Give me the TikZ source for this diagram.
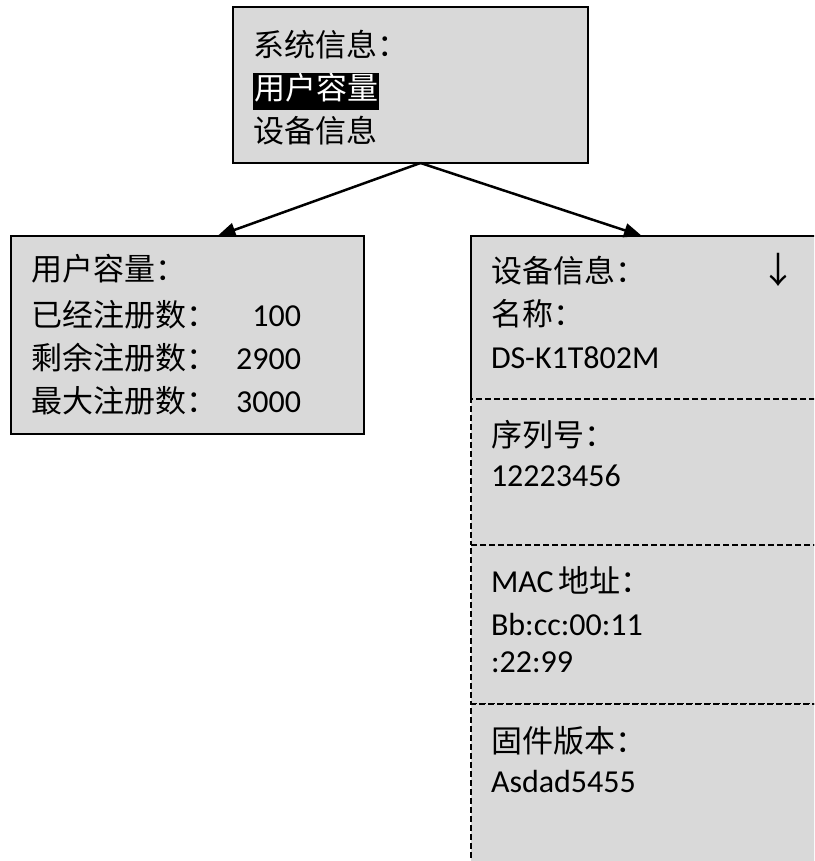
\documentclass[tikz,border=0pt]{standalone}
\usepackage{fontspec}
\setmainfont{Carlito}
\newfontfamily\cjk{Noto Sans CJK SC}
\usetikzlibrary{arrows.meta,positioning}
\definecolor{panelgray}{RGB}{217,217,217}
\newcommand{\zh}[1]{{\fontsize{31}{43}\selectfont\cjk #1}}
\newcommand{\selbar}[1]{{\setlength\fboxsep{1pt}\colorbox{black}{\rule[-9pt]{0pt}{33pt}\textcolor{white}{#1}}}}

\begin{document}
\begin{tikzpicture}[x=1pt,y=-1pt,
  panel/.style={fill=panelgray, anchor=north west, align=left, outer sep=0pt,
    inner xsep=20pt, inner ysep=0pt, font=\fontsize{32}{43}\selectfont},
  solidframe/.style={draw, line width=1.5pt},
  dashframe/.style={draw, line width=1.3pt, dash pattern=on 6pt off 3pt},
  link/.style={line width=2.5pt, -{Triangle[length=18pt,width=14pt]}}
]
  \useasboundingbox (0,0) rectangle (814,861);
  \clip (0,0) rectangle (814,861);

  % Menu
  \node[panel, solidframe, text width=315pt, text height=50pt, text depth=106pt]
    (sysinfo) at (233,7)
    {\zh{系统信息：}\\ \selbar{\zh{用户容量}}\\ \zh{设备信息}};

  % User capacity
  \node[panel, solidframe, text width=313pt, text height=44pt, text depth=154pt]
    (capacity) at (11,236)
    {\zh{用户容量：}\\[3pt]
     \zh{已经注册数：}\makebox[84pt][r]{100}\\
     \zh{剩余注册数：}\makebox[84pt][r]{2900}\\
     \zh{最大注册数：}\makebox[84pt][r]{3000}};

  % Device info, page by page
  \node[panel, text width=320pt, text height=46pt, text depth=117pt]
    (devname) at (471,236)
    {\zh{设备信息：}\\ \zh{名称：}\\ DS-K1T802M};
  \draw[line width=1.5pt] (devname.south west) |- (devname.north east);
  \node[font=\fontsize{36}{36}\selectfont\cjk] (scroll) at (778,270) {↓};

  \node[panel, dashframe, text width=320pt, text height=47pt, text depth=99pt]
    (serial) at (devname.south west)
    {\zh{序列号：}\\[-3pt] 12223456};
  \node[panel, dashframe, text width=320pt, text height=47pt, text depth=112pt]
    (mac) at (serial.south west)
    {MAC\hspace{5pt}\zh{地址：}\\ Bb:cc:00:11\\[-6pt] :22:99};
  \node[panel, dashframe, text width=320pt, text height=48pt, text depth=200pt]
    (firmware) at (mac.south west)
    {\zh{固件版本：}\\[-3pt] Asdad5455};

  % Arrows
  \coordinate (fork) at ([xshift=10pt]sysinfo.south);
  \draw[link] (fork) -- ([xshift=30pt]capacity.north);
  \draw[link] (fork) -- ([xshift=-9pt]devname.north);
\end{tikzpicture}
\end{document}
